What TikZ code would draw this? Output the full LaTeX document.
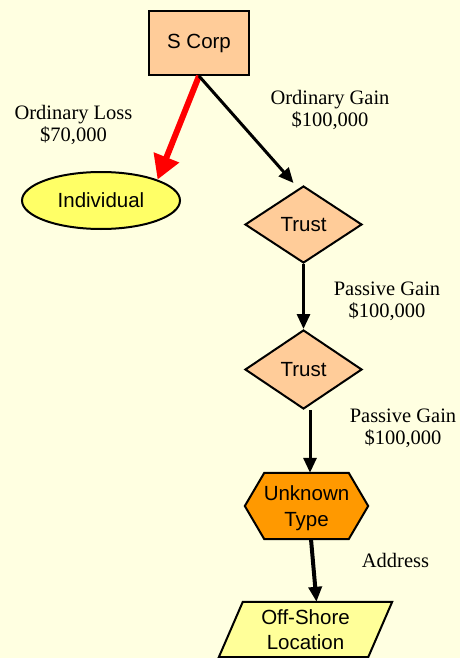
\documentclass[tikz,border=0pt]{standalone}
\usepackage{fontspec}
\setmainfont{Liberation Serif}
\setsansfont{Liberation Sans}
\usetikzlibrary{shapes.geometric,arrows.meta,calc}
\definecolor{bg}{RGB}{255,255,225}
\definecolor{peach}{RGB}{255,204,153}
\definecolor{lemon}{RGB}{255,255,102}
\definecolor{amber}{RGB}{255,153,0}
\definecolor{paleyellow}{RGB}{255,255,153}
\pgfdeclarelayer{back}
\pgfsetlayers{back,main}

\begin{document}
\begin{tikzpicture}[x=1pt,y=-1pt,
  shapebox/.style={draw=black, line width=2pt, align=center, inner sep=0pt,
    font=\sffamily\fontsize{20.5}{25}\selectfont},
  plainbox/.style={draw=none, align=center, inner sep=0pt,
    font=\sffamily\fontsize{20.5}{25.5}\selectfont},
  outline/.style={draw=black, line width=2pt},
  amount/.style={font=\rmfamily\fontsize{20.5}{22}\selectfont, align=center, anchor=base},
  flow/.style={draw=black, line width=3pt, -{Triangle[length=15pt,width=13pt]}},
  loss/.style={draw=red, line width=6pt, -{Triangle[length=24pt,width=26pt]}}]

\begin{pgfonlayer}{back}
  \fill[bg] (0,0) rectangle (460,658);
\end{pgfonlayer}
\useasboundingbox (0,0) rectangle (460,658);

% entities
\node[shapebox, rectangle, fill=peach, minimum width=100pt, minimum height=64pt]
  (scorp) at (199,43) {S Corp};
\node[shapebox, ellipse, fill=lemon, minimum width=158pt, minimum height=57pt]
  (indiv) at (101,200.5) {Individual};
\node[shapebox, diamond, fill=peach, minimum width=117pt, minimum height=77pt]
  (trustA) at (303.5,224.5) {Trust};
\node[shapebox, diamond, fill=peach, minimum width=117pt, minimum height=79pt]
  (trustB) at (303.5,369.5) {Trust};

% hexagon: text node plus its outline
\node[plainbox, minimum width=84pt, minimum height=66pt] (unknown) at (306.5,506) {};
\node[plainbox] (unknownText) at (306.5,508) {Unknown\\Type};
\begin{pgfonlayer}{back}
  \filldraw[outline, fill=amber]
    ($(unknown.west)+(-19.5,0)$) -- (unknown.north west) -- (unknown.north east)
    -- ($(unknown.east)+(19.5,0)$) -- (unknown.south east) -- (unknown.south west) -- cycle;
\end{pgfonlayer}

% parallelogram: text node plus its outline
\node[plainbox, minimum width=125pt, minimum height=55pt] (offshore) at (305.5,629.5) {Off-Shore\\Location};
\begin{pgfonlayer}{back}
  \filldraw[outline, fill=paleyellow]
    (offshore.north west) -- ($(offshore.north east)+(24,0)$)
    -- (offshore.south east) -- ($(offshore.south west)+(-24,0)$) -- cycle;
\end{pgfonlayer}

% flows
\draw[loss] (scorp.south) -- (indiv.north east);
\draw[flow] (scorp.south) -- ($(trustA.north)+(-10,-2)$);
\draw[flow] (trustA.south) -- (trustB.north);
\draw[flow] ($(trustB.south)+(6.5,0)$) -- ($(unknown.north)+(3.5,0)$);
\draw[flow, line width=4pt] ($(unknown.south)+(4.5,0)$) -- ($(offshore.north)+(11,0)$);

% amounts (anchored at the baseline of the lower line)
\node[amount] (lossLbl) at (73.5,142) {Ordinary Loss\\\$70,000};
\node[amount] (gainLbl) at (330,127) {Ordinary Gain\\\$100,000};
\node[amount] (passA) at (387,317) {Passive Gain\\\$100,000};
\node[amount] (passB) at (403,444) {Passive Gain\\\$100,000};
\node[amount] (addr) at (395.5,567) {Address};
\end{tikzpicture}
\end{document}
